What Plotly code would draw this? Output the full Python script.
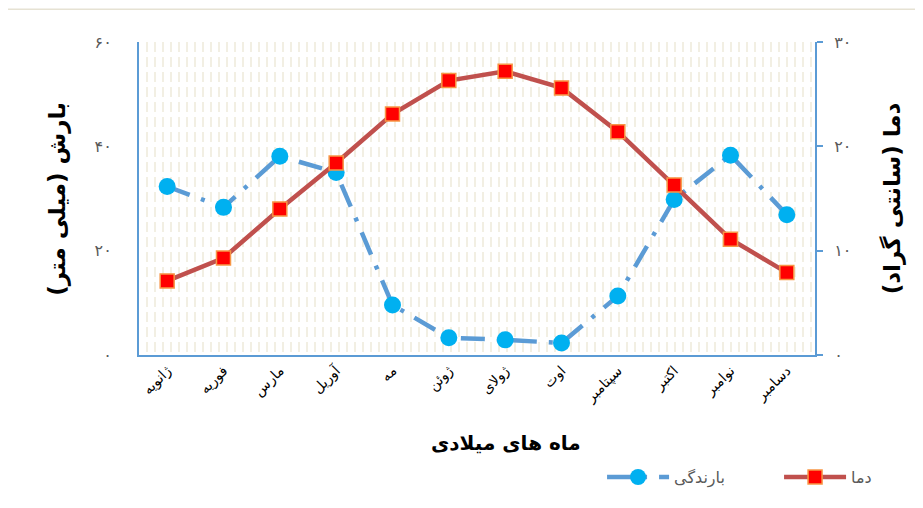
import plotly.graph_objects as go

months = ["ژانویه", "فوریه", "مارس", "آوریل", "مه", "ژوئن",
          "ژولای", "اوت", "سپتامبر", "اکتبر", "نوامبر", "دسامبر"]
precip_mm = [32.3, 28.3, 38.1, 35.0, 9.6, 3.3, 2.9, 2.3, 11.3, 29.8, 38.3, 26.9]
temp_c = [7.1, 9.3, 14.0, 18.4, 23.1, 26.3, 27.2, 25.6, 21.4, 16.3, 11.1, 7.9]

left_tickvals = [0, 20, 40, 60]
left_ticktext = ["۰", "۲۰", "۴۰", "۶۰"]
right_tickvals = [0, 10, 20, 30]
right_ticktext = ["۰", "۱۰", "۲۰", "۳۰"]

precip_name = "بارندگی"
temp_name = "دما"
left_title = "بارش (میلی متر)"
right_title = "دما (سانتی گراد)"
x_title = "ماه های میلادی"

FONT = "DejaVu Sans"
BLUE_AX = "#5b9bd5"

fig = go.Figure()

# helper trace so that the background pattern axis is rendered
fig.add_trace(go.Scatter(x=[0], y=[0], xaxis="x3", yaxis="y", mode="none",
                         showlegend=False, hoverinfo="skip"))

fig.add_trace(go.Scatter(
    x=months, y=precip_mm, name=precip_name, yaxis="y",
    mode="lines+markers",
    line=dict(color="#5b9bd5", width=4.5, dash="24px,12px,4px,12px"),
    marker=dict(symbol="circle", size=17, color="#00b0f0", line=dict(width=0)),
))
fig.add_trace(go.Scatter(
    x=months, y=temp_c, name=temp_name, yaxis="y2",
    mode="lines+markers",
    line=dict(color="#c0504d", width=4.5),
    marker=dict(symbol="square", size=14, color="#ff0000",
                line=dict(color="#f79646", width=1.5)),
))

fig.update_layout(
    width=907, height=492,
    margin=dict(l=131, r=100, t=34, b=145, autoexpand=False),
    paper_bgcolor="white", plot_bgcolor="white",
    font=dict(family=FONT, color="#404040"),
    showlegend=True,
    legend=dict(orientation="h", x=0.685, y=-0.39, xanchor="left", yanchor="middle",
                font=dict(size=16, color="#595959", family=FONT),
                bgcolor="rgba(0,0,0,0)", itemwidth=62, entrywidth=100,
                tracegroupgap=0),
    xaxis=dict(type="category", range=[-0.5, 11.5], showgrid=False, zeroline=False,
               showline=True, linecolor=BLUE_AX, linewidth=2, ticks="",
               tickangle=-45, tickfont=dict(size=14, color="#000000", family=FONT),
               fixedrange=True),
    xaxis3=dict(overlaying="x", range=[0, 84.5], dtick=1, tick0=0, showgrid=True,
                gridcolor="#f2efe3", gridwidth=1.5, griddash="10px,5px",
                showticklabels=False, ticks="", zeroline=False, showline=False,
                side="top", anchor="y"),
    yaxis=dict(range=[0, 60], tickvals=left_tickvals, ticktext=left_ticktext,
               showgrid=False, zeroline=False, showline=True, linecolor=BLUE_AX,
               linewidth=2, ticks="", ticklabelstandoff=22,
               tickfont=dict(size=16, color="#595959", family=FONT)),
    yaxis2=dict(range=[0, 30], tickvals=right_tickvals, ticktext=right_ticktext,
                overlaying="y", side="right", showgrid=False, zeroline=False,
                showline=True, linecolor=BLUE_AX, linewidth=2, ticks="outside",
                ticklen=6, tickcolor=BLUE_AX, tickwidth=2, ticklabelstandoff=8,
                tickfont=dict(size=16, color="#595959", family=FONT)),
    annotations=[
        dict(text=left_title, xref="paper", yref="paper", x=-0.121, y=0.5,
             textangle=-90, showarrow=False, xanchor="center", yanchor="middle",
             font=dict(size=23, color="#000000", family=FONT, weight="bold")),
        dict(text=right_title, xref="paper", yref="paper", x=1.115, y=0.5,
             textangle=-90, showarrow=False, xanchor="center", yanchor="middle",
             font=dict(size=23, color="#000000", family=FONT, weight="bold")),
        dict(text=x_title, xref="paper", yref="paper", x=0.543, y=-0.281,
             showarrow=False, xanchor="center", yanchor="middle",
             font=dict(size=20, color="#000000", family=FONT, weight="bold")),
    ],
    shapes=[
        dict(type="line", xref="paper", yref="paper", x0=-0.195, x1=1.16,
             y0=1.105, y1=1.105, line=dict(color="#e6e2d3", width=1.5)),
        dict(type="line", xref="paper", yref="paper", x0=-0.195, x1=-0.195,
             y0=1.105, y1=-0.49, line=dict(color="#e6e2d3", width=1.5)),
    ],
)

fig.write_html("out.html")
